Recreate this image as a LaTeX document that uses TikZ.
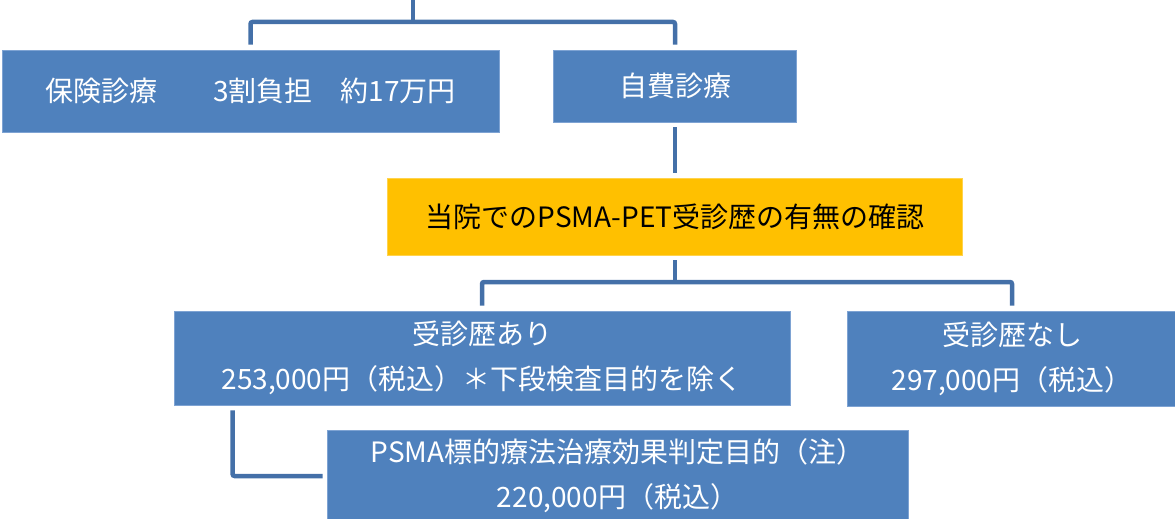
\documentclass[tikz,border=0pt]{standalone}
\usepackage{fontspec}
\setmainfont{Noto Sans CJK JP}
\definecolor{boxblue}{HTML}{4F81BD}
\definecolor{boxedge}{HTML}{7EA3D3}
\definecolor{connblue}{HTML}{4470A8}
\definecolor{boxyellow}{HTML}{FFC000}
\begin{document}
\begin{tikzpicture}[x=1pt,y=-1pt,
  bluebox/.style={rectangle, fill=boxblue, draw=boxedge, line width=0.8pt, text=white,
    inner sep=0pt, align=center, font=\fontsize{28}{45}\selectfont},
  yellowbox/.style={rectangle, fill=boxyellow, draw=boxyellow!70!white, line width=0.8pt, text=black,
    inner sep=0pt, align=center, font=\fontsize{28}{45}\selectfont},
  conn/.style={draw=connblue, line width=4.5pt, rounded corners=2pt, shorten <=5pt, shorten >=5pt}]
\useasboundingbox (0,0) rectangle (1175,519);
\node[bluebox, minimum width=497pt, minimum height=82pt] (b1) at (250.5,91) {保険診療　　3割負担　約17万円};
\node[bluebox, minimum width=243pt, minimum height=72pt] (b2) at (675,86) {自費診療};
\node[yellowbox, minimum width=575pt, minimum height=77pt] (y) at (675,216.5) {当院でのPSMA-PET受診歴の有無の確認};
\node[bluebox, minimum width=616pt, minimum height=94pt] (b3) at (482,358) {受診歴あり\\253,000円（税込）＊下段検査目的を除く};
\node[bluebox, minimum width=330pt, minimum height=95pt] (b4) at (1012,358.5) {受診歴なし\\297,000円（税込）};
\node[bluebox, minimum width=581pt, minimum height=92pt] (b5) at (617.5,476) {PSMA標的療法治療効果判定目的（注）\\220,000円（税込）};
\coordinate (top) at (413,-5);
\coordinate (j1) at (413,22);
\coordinate (j2) at (675,282);
\draw[conn, shorten <=0pt, shorten >=0pt] (top) -- (j1);
\draw[conn] (b1.north) |- (j1) -| (b2.north);
\draw[conn] (b2.south) -- (y.north);
\draw[conn, shorten >=0pt] (y.south) -- (j2);
\draw[conn] (b3.north) |- (j2) -| (b4.north);
\draw[conn, shorten >=4pt] ([xshift=59pt]b3.south west) |- (b5.west);
\end{tikzpicture}
\end{document}
